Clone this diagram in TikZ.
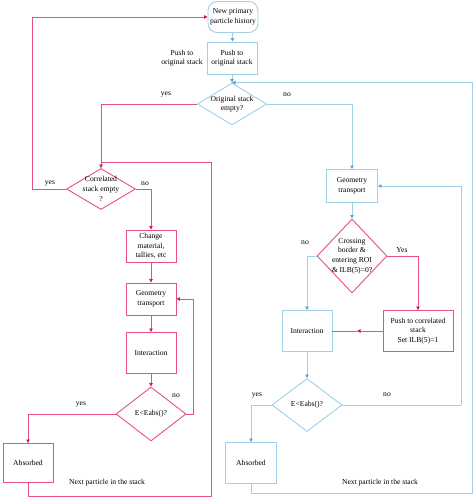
\documentclass[tikz,border=0pt]{standalone}
\usepackage{fontspec}
\setmainfont{Liberation Serif}
\usetikzlibrary{shapes.geometric,arrows.meta}
\definecolor{rl}{HTML}{E8507E}
\definecolor{rt}{HTML}{E0163F}
\definecolor{bl}{HTML}{9FD0E6}
\definecolor{bt}{HTML}{5BA3D0}
\begin{document}
\begin{tikzpicture}[x=1pt,y=-1pt,
  font=\fontsize{7.6}{9.6}\selectfont,
  rbox/.style={draw=rl, line width=0.9pt, inner sep=0pt, align=center},
  bbox/.style={draw=bl, line width=0.9pt, inner sep=0pt, align=center},
  rdia/.style={diamond, draw=rl, line width=0.9pt, inner sep=0pt},
  bdia/.style={diamond, draw=bl, line width=0.9pt, inner sep=0pt},
  txt/.style={inner sep=0pt, align=center},
  rline/.style={draw=rl, line width=0.8pt},
  bline/.style={draw=bl, line width=0.8pt},
  rarr/.style={rline, -{Triangle[length=3.5pt,width=3.5pt,color=rt]}},
  barr/.style={bline, -{Triangle[length=3.5pt,width=3.5pt,color=bt]}}]
\useasboundingbox (0,0) rectangle (474,497);

% nodes
\node[bbox, rounded corners=9pt, minimum width=50pt, minimum height=31pt] (np) at (233,17) {New primary\\particle history};
\node[bbox, minimum width=50pt, minimum height=32pt] (push1) at (232,58) {Push to\\original stack};
\node[bdia, minimum width=69pt, minimum height=42pt] (d1) at (232,104) {};
\node[txt] (d1t) at (d1) {Original stack\\empty?};

\node[rdia, minimum width=69pt, minimum height=41pt] (d2) at (101,189) {};
\node[txt] (d2t) at (d2) {Correlated\\stack empty\\?};
\node[rbox, minimum width=50pt, minimum height=32pt] (chg) at (151,246) {Change\\material,\\tallies, etc};
\node[rbox, minimum width=50pt, minimum height=32pt] (geoL) at (151,299) {Geometry\\transport};
\node[rbox, minimum width=50pt, minimum height=41pt] (intL) at (151,353) {Interaction};
\node[rdia, minimum width=70pt, minimum height=54pt] (d3) at (151,414) {};
\node[txt] (d3t) at (d3) {E<Eabs()?};
\node[rbox, minimum width=50pt, minimum height=39pt] (absL) at (28,463) {Absorbed};

\node[bbox, minimum width=51pt, minimum height=33pt] (geoR) at (352,186) {Geometry\\transport};
\node[rdia, minimum width=70pt, minimum height=74pt] (d4) at (352,256) {};
\node[txt] (d4t) at (d4) {Crossing\\border \&\\entering ROI\\\& ILB(5)=0?};
\node[bbox, minimum width=50pt, minimum height=41pt] (intR) at (307,331) {Interaction};
\node[rbox, minimum width=70pt, minimum height=41pt] (pushc) at (418,331) {Push to correlated\\stack\\Set ILB(5)=1};
\node[bdia, minimum width=70pt, minimum height=53pt] (d5) at (307,405) {};
\node[txt] (d5t) at (d5) {E<Eabs()?};
\node[bbox, minimum width=51pt, minimum height=41pt] (absR) at (251,463) {Absorbed};

% labels
\node[txt] (l1) at (182,58) {Push to\\original stack};
\node[txt] (l2) at (166,95) {yes};
\node[txt] (l3) at (287,95) {no};
\node[txt] (l4) at (50,184) {yes};
\node[txt] (l5) at (145,184) {no};
\node[txt] (l6) at (176,396) {no};
\node[txt] (l7) at (81,405) {yes};
\node[txt] (l8) at (107,483) {Next particle in the stack};
\node[txt] (l9) at (305,243) {no};
\node[txt] (l10) at (402,250) {Yes};
\node[txt] (l11) at (257,396) {yes};
\node[txt] (l12) at (387,395) {no};
\node[txt] (l13) at (380,483) {Next particle in the stack};

% coordinates
\coordinate (rc1) at (211,496);
\coordinate (rc2) at (101,162);
\coordinate (mc) at (357,331);
\coordinate (bc1) at (461,405);
\coordinate (bc2) at (472,493);

% left / red connectors
\draw[rarr] (d2.west) -- ++(-34,0) |- (np.west);
\draw[barr] (np) -- (push1);
\draw[barr] (push1.south) -- (d1.north);
\draw[rarr] (d1.west) -| (d2.north);
\draw[barr] (d1.east) -| (geoR.north);
\draw[rarr] (d2.east) -| (chg.north);
\draw[rarr] (chg) -- (geoL);
\draw[rarr] (geoL) -- (intL);
\draw[rarr] (intL) -- (d3.north);
\draw[rarr] (d3.east) -- ++(7,0) |- (geoL.east);
\draw[rarr] (d3.west) -| (absL.north);
\draw[rline] (absL.south) |- (rc1) |- (rc2);

% right connectors
\draw[barr] (geoR) -- (d4.north);
\draw[barr] (d4.west) -| (intR.north);
\draw[rarr] (d4.east) -| (pushc.north);
\draw[rarr] (pushc.west) -- (mc);
\draw[rline] (mc) -- (intR.east);
\draw[barr] (intR) -- (d5.north);
\draw[bline] (d5.east) -- (bc1);
\draw[barr] (bc1) |- (geoR.east);
\draw[barr] (d5.west) -| (absR.north);
\draw[barr] (absR.south) |- (bc2) |- (d1.north);
\end{tikzpicture}
\end{document}
